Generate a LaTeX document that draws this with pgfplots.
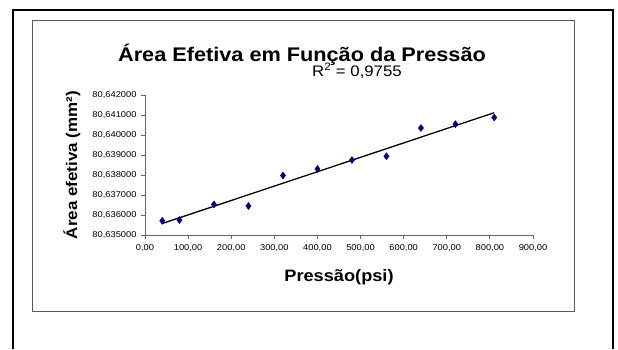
\documentclass[border=0pt]{standalone}
\usepackage{fontspec}
\setmainfont{Liberation Sans}[FakeStretch=1.1]
\usepackage{pgfplots}
\pgfplotsset{compat=1.18}
\usepackage{pgfplotstable}
% y = (Area - 80.635000 mm^2) in units of 1e-6 mm^2
\pgfplotstableread{
x y
40 710
80 750
160 1530
240 1450
320 2975
400 3300
480 3750
560 3940
640 5350
720 5540
810 5875
}\datatable
\begin{document}
\begin{tikzpicture}[x=1bp,y=1bp]
\useasboundingbox (0,0) rectangle (618,349);
\draw[line width=2bp] (12.7,0) -- (12.7,339) -- (612.7,339) -- (612.7,0);
\draw[line width=1bp, black!65] (32.7,38) rectangle (574,328.3);
\begin{axis}[
  at={(145bp,114bp)}, anchor=south west,
  scale only axis, width=388bp, height=140bp,
  xmin=0, xmax=900, ymin=0, ymax=7000,
  axis x line=bottom, axis y line=left,
  axis line style={-, black!60, line width=0.9bp},
  tick align=outside, major tick length=4bp,
  tick style={black!60, line width=0.9bp},
  xtick={0,100,...,900},
  xticklabels={{0,00},{100,00},{200,00},{300,00},{400,00},{500,00},{600,00},{700,00},{800,00},{900,00}},
  ytick={0,1000,...,7000},
  yticklabels={{80,635000},{80,636000},{80,637000},{80,638000},{80,639000},{80,640000},{80,641000},{80,642000}},
  ticklabel style={font=\fontsize{8.5}{10}\selectfont, black},
  xticklabel style={yshift=-2bp},
  yticklabel style={xshift=-1bp},
  clip=false,
]
\addplot[only marks, mark=diamond*, mark size=3.5bp, color={rgb,255:red,0;green,0;blue,128}] table[x=x,y=y] {\datatable};
\addplot[black, line width=1.3bp, no marks] table[x=x, y={create col/linear regression={y=y}}] {\datatable};
\end{axis}
\node[anchor=base, font=\fontsize{19.8}{23}\selectfont\bfseries] at (302,288) {Área Efetiva em Função da Pressão};
\node[anchor=base west, font=\fontsize{15.3}{18}\selectfont, inner sep=0pt] at (312,273) {R\textsuperscript{2} = 0,9755};
\node[font=\fontsize{16.6}{19}\selectfont\bfseries] at (339,72) {Pressão(psi)};
\node[rotate=90, font=\fontsize{15.5}{18}\selectfont\bfseries] at (72,184) {Área efetiva (mm²)};
\end{tikzpicture}
\end{document}
